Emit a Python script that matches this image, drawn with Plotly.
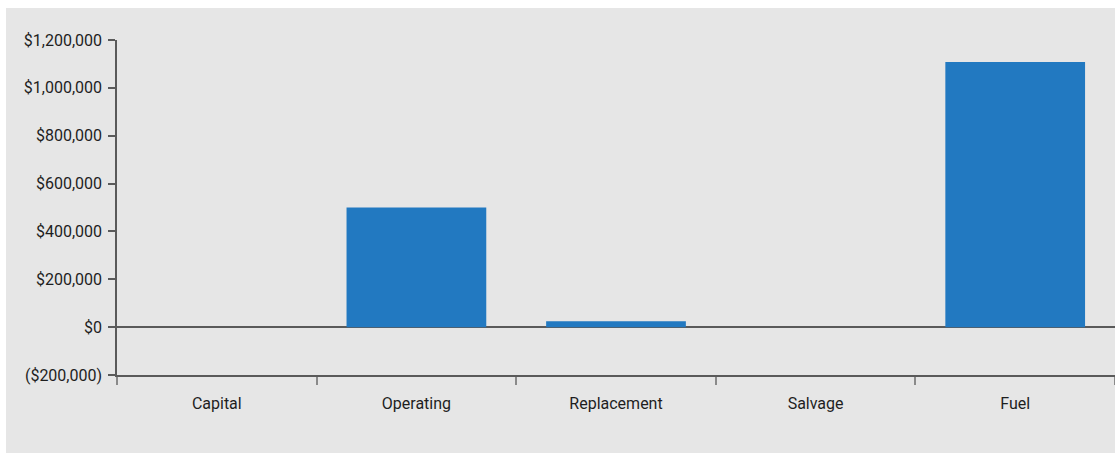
import plotly.graph_objects as go

# Cost breakdown by category
categories = ["Capital", "Operating", "Replacement", "Salvage", "Fuel"]
costs = [0, 500000, 25000, 0, 1108000]

tick_vals = [-200000, 0, 200000, 400000, 600000, 800000, 1000000, 1200000]
tick_text = ["($200,000)", "$0", "$200,000", "$400,000", "$600,000",
             "$800,000", "$1,000,000", "$1,200,000"]

W, H = 1115, 453
M_L, M_R, M_T, M_B = 117, 0, 40, 78
BG = "#e6e6e6"
AXIS = "#5a5a5a"
FONT = dict(family="Roboto, sans-serif", size=16, color="#1e1e1e")

fig = go.Figure(
    go.Bar(
        x=categories,
        y=costs,
        width=0.7,
        marker=dict(color="#2279c1", line=dict(width=0)),
        hoverinfo="x+y",
    )
)

pw = W - M_L - M_R
ph = H - M_T - M_B

fig.update_layout(
    width=W,
    height=H,
    margin=dict(l=M_L, r=M_R, t=M_T, b=M_B, pad=0),
    paper_bgcolor=BG,
    plot_bgcolor=BG,
    font=FONT,
    showlegend=False,
    shapes=[
        # white strip along the top edge
        dict(type="rect", xref="paper", yref="paper", layer="below",
             x0=-M_L / pw - 0.01, x1=1.01, y0=1 + (M_T - 8) / ph, y1=1 + M_T / ph + 0.01,
             fillcolor="white", line=dict(width=0)),
        # white strip along the left edge
        dict(type="rect", xref="paper", yref="paper", layer="below",
             x0=-M_L / pw - 0.01, x1=-(M_L - 6) / pw, y0=-M_B / ph - 0.01, y1=1 + M_T / ph + 0.01,
             fillcolor="white", line=dict(width=0)),
    ],
)

fig.update_xaxes(
    type="category",
    showline=True,
    linecolor=AXIS,
    linewidth=1.5,
    ticks="outside",
    tickson="boundaries",
    ticklen=8,
    tickwidth=1.5,
    tickcolor="#8a8a8a",
    showgrid=False,
    zeroline=False,
    tickfont=FONT,
    ticklabelstandoff=13,
    range=[-0.5, 4.5],
)

fig.update_yaxes(
    range=[-200000, 1200000],
    tickvals=tick_vals,
    ticktext=tick_text,
    showline=True,
    linecolor=AXIS,
    linewidth=1.5,
    ticks="outside",
    ticklen=7,
    tickwidth=1.5,
    tickcolor=AXIS,
    showgrid=False,
    zeroline=True,
    zerolinecolor=AXIS,
    zerolinewidth=1.5,
    tickfont=FONT,
    ticklabelstandoff=3,
)

fig.write_html("out.html")
